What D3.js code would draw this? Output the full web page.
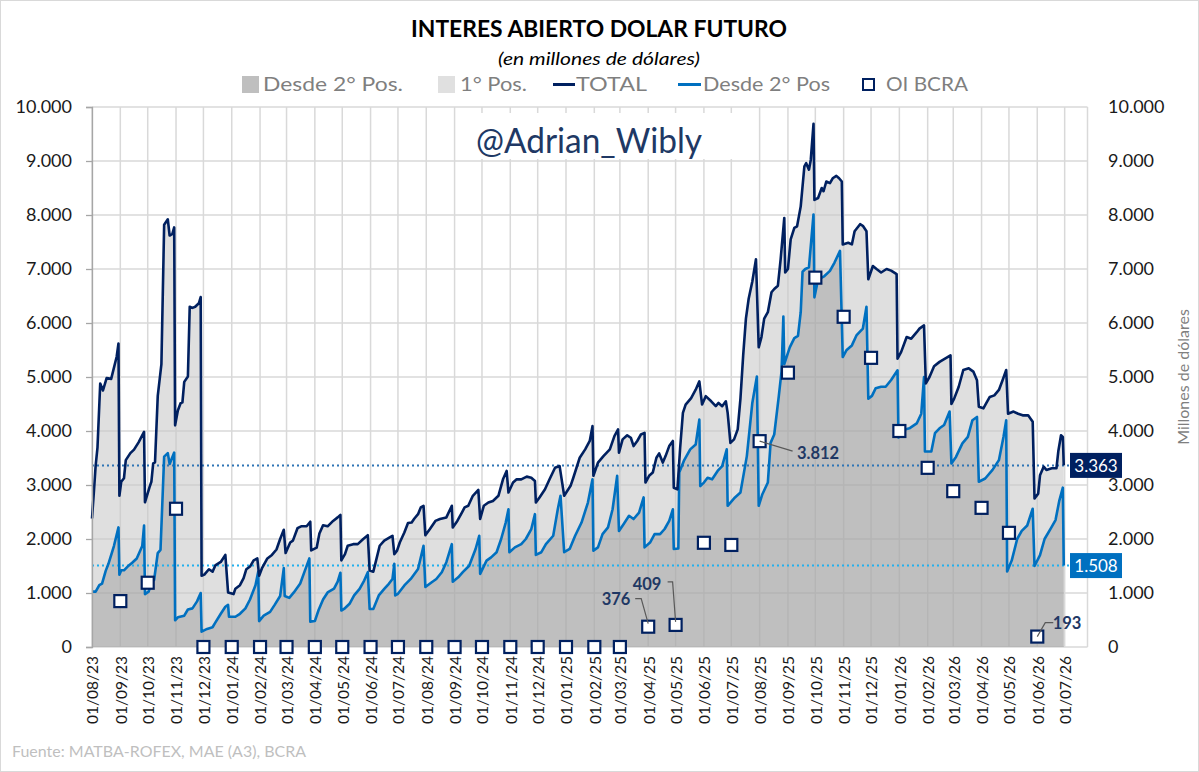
<!DOCTYPE html>
<html><head><meta charset="utf-8">
<script src="https://cdn.jsdelivr.net/npm/d3@7"></script>
<style>body{margin:0;background:#fff} svg{display:block} text{font-family:Lato,'Open Sans',sans-serif}</style>
</head><body><svg id="c" width="1199" height="772"></svg>
<script>
// ---------- DATA ----------
const totalSeries = [
["2023-08-01",2380],["2023-08-03",2860],["2023-08-05",3360],["2023-08-07",3690],["2023-08-10",4880],["2023-08-13",4750],["2023-08-17",4980],["2023-08-22",4965],["2023-08-28",5375],["2023-08-30",5620],["2023-08-31",2800],
["2023-09-02",3060],["2023-09-05",3125],["2023-09-07",3460],["2023-09-12",3590],["2023-09-16",3655],["2023-09-21",3790],["2023-09-27",3985],["2023-09-28",2680],
["2023-10-03",2960],["2023-10-05",3060],["2023-10-07",3400],["2023-10-09",3420],["2023-10-12",4650],["2023-10-16",5240],["2023-10-19",7820],["2023-10-23",7920],["2023-10-25",7620],["2023-10-28",7650],["2023-10-30",7770],["2023-10-31",4105],
["2023-11-03",4380],["2023-11-06",4515],["2023-11-08",4530],["2023-11-10",4910],["2023-11-14",5010],["2023-11-16",6300],["2023-11-19",6280],["2023-11-22",6300],["2023-11-26",6365],["2023-11-28",6480],["2023-11-29",1320],
["2023-12-02",1340],["2023-12-07",1440],["2023-12-11",1395],["2023-12-14",1510],["2023-12-20",1575],["2023-12-25",1705],["2023-12-28",1010],
["2024-01-03",980],["2024-01-05",1080],["2024-01-10",1145],["2024-01-14",1275],["2024-01-17",1440],["2024-01-21",1490],["2024-01-25",1605],["2024-01-29",1640],["2024-01-31",1320],
["2024-02-03",1455],["2024-02-09",1640],["2024-02-14",1705],["2024-02-19",1805],["2024-02-23",2000],["2024-02-27",2170],["2024-02-29",1740],
["2024-03-05",1935],["2024-03-08",1970],["2024-03-13",2200],["2024-03-17",2235],["2024-03-23",2235],["2024-03-27",2320],["2024-03-28",1790],
["2024-04-03",1840],["2024-04-06",2100],["2024-04-10",2255],["2024-04-15",2235],["2024-04-21",2335],["2024-04-26",2400],["2024-04-29",2445],["2024-04-30",1605],
["2024-05-04",1720],["2024-05-07",1875],["2024-05-13",1905],["2024-05-18",1905],["2024-05-24",2000],["2024-05-29",2070],["2024-05-31",1415],
["2024-06-04",1395],["2024-06-07",1600],["2024-06-11",1875],["2024-06-16",1970],["2024-06-22",2030],["2024-06-25",2060],["2024-06-27",1720],["2024-06-30",1785],
["2024-07-03",1935],["2024-07-08",2120],["2024-07-12",2295],["2024-07-16",2305],["2024-07-19",2380],["2024-07-23",2460],["2024-07-26",2585],["2024-07-29",2615],["2024-07-31",2070],
["2024-08-05",2185],["2024-08-11",2335],["2024-08-16",2370],["2024-08-23",2400],["2024-08-29",2615],["2024-08-30",2215],
["2024-09-04",2335],["2024-09-09",2490],["2024-09-12",2585],["2024-09-16",2615],["2024-09-21",2800],["2024-09-27",2910],["2024-09-29",2370],
["2024-10-03",2615],["2024-10-08",2675],["2024-10-13",2705],["2024-10-19",2800],["2024-10-24",3105],["2024-10-28",3260],["2024-10-30",2860],
["2024-11-04",3045],["2024-11-08",3105],["2024-11-13",3105],["2024-11-19",3155],["2024-11-24",3135],["2024-11-28",3075],["2024-11-29",2675],
["2024-12-03",2770],["2024-12-09",2920],["2024-12-14",3105],["2024-12-20",3320],["2024-12-25",3350],["2024-12-30",2800],
["2025-01-06",2985],["2025-01-09",3135],["2025-01-16",3505],["2025-01-22",3660],["2025-01-27",3815],["2025-01-30",4090],["2025-01-31",3170],
["2025-02-05",3415],["2025-02-11",3535],["2025-02-18",3660],["2025-02-23",3905],["2025-02-27",4030],["2025-02-28",3600],
["2025-03-04",3845],["2025-03-09",3920],["2025-03-13",3875],["2025-03-16",3720],["2025-03-20",3815],["2025-03-24",3935],["2025-03-28",3965],["2025-03-29",3045],
["2025-04-02",3170],["2025-04-06",3230],["2025-04-10",3505],["2025-04-13",3585],["2025-04-17",3415],["2025-04-20",3535],["2025-04-24",3720],["2025-04-28",3815],["2025-04-29",2950],
["2025-05-03",2920],["2025-05-06",3690],["2025-05-09",4335],["2025-05-12",4490],["2025-05-18",4610],["2025-05-23",4765],["2025-05-27",4920],["2025-05-30",4490],
["2025-06-03",4645],["2025-06-09",4550],["2025-06-14",4460],["2025-06-17",4520],["2025-06-21",4460],["2025-06-25",4550],["2025-06-27",4335],["2025-06-30",3780],
["2025-07-04",3845],["2025-07-08",4030],["2025-07-11",4600],["2025-07-14",5400],["2025-07-17",6080],["2025-07-20",6450],["2025-07-24",6770],["2025-07-28",7180],["2025-07-31",5550],
["2025-08-03",5740],["2025-08-06",6080],["2025-08-10",6200],["2025-08-14",6570],["2025-08-17",6630],["2025-08-21",6690],["2025-08-24",7180],["2025-08-28",7945],["2025-08-29",6935],
["2025-09-01",7000],["2025-09-04",7550],["2025-09-08",7760],["2025-09-11",7790],["2025-09-15",8160],["2025-09-19",8900],["2025-09-21",8960],["2025-09-24",8840],["2025-09-26",9020],["2025-09-29",9690],["2025-09-30",8280],
["2025-10-04",8315],["2025-10-08",8500],["2025-10-10",8440],["2025-10-13",8620],["2025-10-17",8590],["2025-10-20",8680],["2025-10-24",8725],["2025-10-27",8680],["2025-10-30",8620],["2025-10-31",7455],
["2025-11-06",7485],["2025-11-10",7455],["2025-11-13",7700],["2025-11-19",7830],["2025-11-22",7800],["2025-11-26",7700],["2025-11-28",6810],
["2025-12-03",7055],["2025-12-07",7000],["2025-12-12",6935],["2025-12-18",7000],["2025-12-23",6970],["2025-12-29",6905],["2025-12-30",5340],
["2026-01-03",5465],["2026-01-09",5740],["2026-01-14",5710],["2026-01-20",5830],["2026-01-23",5895],["2026-01-28",5955],["2026-01-30",4880],
["2026-02-03",5000],["2026-02-08",5200],["2026-02-14",5280],["2026-02-20",5340],["2026-02-26",5400],["2026-02-27",4500],
["2026-03-02",4600],["2026-03-07",4820],["2026-03-12",5130],["2026-03-18",5160],["2026-03-23",5100],["2026-03-27",4940],["2026-03-29",4450],
["2026-04-03",4420],["2026-04-06",4510],["2026-04-10",4630],["2026-04-15",4660],["2026-04-20",4760],["2026-04-24",4940],["2026-04-28",5130],["2026-04-30",4320],
["2026-05-06",4360],["2026-05-11",4320],["2026-05-16",4290],["2026-05-22",4290],["2026-05-27",4170],["2026-05-29",2750],
["2026-06-02",2840],["2026-06-04",3180],["2026-06-08",3340],["2026-06-11",3280],["2026-06-17",3310],["2026-06-22",3310],["2026-06-24",3620],["2026-06-27",3920],["2026-06-29",3890],["2026-06-30",3363]
];
const pos2Series = [
["2023-08-01",1025],["2023-08-05",1025],["2023-08-09",1145],["2023-08-12",1175],["2023-08-16",1410],["2023-08-19",1540],["2023-08-25",1870],["2023-08-30",2215],["2023-08-31",1340],
["2023-09-02",1420],["2023-09-05",1420],["2023-09-09",1490],["2023-09-14",1560],["2023-09-19",1640],["2023-09-25",1870],["2023-09-27",2250],["2023-09-28",980],
["2023-10-02",1025],["2023-10-06",1225],["2023-10-08",1240],["2023-10-12",1740],["2023-10-15",1800],["2023-10-19",3525],["2023-10-23",3590],["2023-10-25",3390],["2023-10-30",3600],["2023-10-31",495],
["2023-11-03",550],["2023-11-10",580],["2023-11-14",695],["2023-11-19",715],["2023-11-24",845],["2023-11-28",1000],["2023-11-29",285],
["2023-12-05",335],["2023-12-11",365],["2023-12-14",450],["2023-12-20",615],["2023-12-25",745],["2023-12-28",780],["2023-12-29",560],
["2024-01-05",560],["2024-01-10",615],["2024-01-16",715],["2024-01-21",880],["2024-01-27",1145],["2024-01-30",1395],["2024-01-31",480],
["2024-02-05",580],["2024-02-12",650],["2024-02-17",780],["2024-02-23",945],["2024-02-27",1460],["2024-02-28",945],
["2024-03-04",910],["2024-03-09",1010],["2024-03-16",1175],["2024-03-21",1410],["2024-03-26",1640],["2024-03-27",470],
["2024-04-01",480],["2024-04-05",680],["2024-04-10",880],["2024-04-15",1010],["2024-04-22",1080],["2024-04-26",1210],["2024-04-29",1375],["2024-04-30",675],
["2024-05-03",705],["2024-05-09",800],["2024-05-14",955],["2024-05-20",1075],["2024-05-25",1230],["2024-05-29",1385],["2024-05-31",705],
["2024-06-04",705],["2024-06-10",955],["2024-06-16",1075],["2024-06-21",1170],["2024-06-25",1260],["2024-06-27",1540],["2024-06-28",955],
["2024-07-01",985],["2024-07-08",1140],["2024-07-15",1260],["2024-07-23",1445],["2024-07-29",1875],["2024-07-31",1110],
["2024-08-07",1200],["2024-08-12",1260],["2024-08-18",1385],["2024-08-23",1570],["2024-08-29",1905],["2024-08-30",1210],
["2024-09-05",1290],["2024-09-10",1385],["2024-09-17",1505],["2024-09-24",1815],["2024-09-28",2060],["2024-09-29",1355],
["2024-10-06",1600],["2024-10-11",1660],["2024-10-17",1755],["2024-10-22",2000],["2024-10-27",2305],["2024-10-30",2550],["2024-10-31",1755],
["2024-11-06",1845],["2024-11-13",1905],["2024-11-18",2000],["2024-11-24",2185],["2024-11-28",2460],["2024-11-29",1705],
["2024-12-05",1755],["2024-12-10",1905],["2024-12-18",2060],["2024-12-23",2550],["2024-12-26",2800],["2024-12-30",1755],
["2025-01-05",1815],["2025-01-11",2060],["2025-01-18",2305],["2025-01-25",2675],["2025-01-30",3105],["2025-01-31",1785],
["2025-02-05",1845],["2025-02-10",2090],["2025-02-16",2215],["2025-02-21",2550],["2025-02-26",3170],["2025-02-28",2150],
["2025-03-05",2275],["2025-03-11",2430],["2025-03-16",2370],["2025-03-22",2490],["2025-03-27",2770],["2025-03-28",1845],
["2025-04-03",1935],["2025-04-08",2090],["2025-04-14",2090],["2025-04-19",2185],["2025-04-24",2335],["2025-04-28",2550],["2025-04-29",1815],
["2025-05-04",1825],["2025-05-05",3230],["2025-05-10",3445],["2025-05-17",3660],["2025-05-23",3750],["2025-05-27",4210],["2025-05-28",2980],
["2025-06-01",3045],["2025-06-05",3135],["2025-06-10",3105],["2025-06-16",3260],["2025-06-21",3350],["2025-06-26",3660],["2025-06-27",2615],
["2025-07-05",2770],["2025-07-11",2860],["2025-07-18",3535],["2025-07-24",4520],["2025-07-29",5010],["2025-07-31",2615],
["2025-08-04",2830],["2025-08-10",3045],["2025-08-13",3780],["2025-08-17",3935],["2025-08-22",4645],["2025-08-25",5105],["2025-08-27",6120],["2025-08-28",5240],
["2025-09-03",5550],["2025-09-08",5720],["2025-09-12",5760],["2025-09-15",6200],["2025-09-17",6950],["2025-09-20",7000],["2025-09-24",7030],["2025-09-29",8010],["2025-09-30",6475],
["2025-10-04",6810],["2025-10-08",6840],["2025-10-11",6870],["2025-10-17",6965],["2025-10-22",7120],["2025-10-28",7335],["2025-10-31",5370],
["2025-11-04",5495],["2025-11-10",5585],["2025-11-15",5770],["2025-11-22",5895],["2025-11-26",6300],["2025-11-28",4600],
["2025-12-02",4650],["2025-12-06",4790],["2025-12-12",4820],["2025-12-17",4820],["2025-12-23",4945],["2025-12-30",5125],["2025-12-31",3880],
["2026-01-05",4020],["2026-01-12",4050],["2026-01-20",4140],["2026-01-25",4320],["2026-01-28",5000],["2026-01-29",3620],
["2026-02-05",3620],["2026-02-09",3960],["2026-02-14",4050],["2026-02-19",4110],["2026-02-25",4360],["2026-02-27",3400],
["2026-03-04",3520],["2026-03-11",3770],["2026-03-17",3890],["2026-03-22",4200],["2026-03-27",4260],["2026-03-29",3060],
["2026-04-05",3120],["2026-04-13",3280],["2026-04-20",3460],["2026-04-25",3890],["2026-04-28",4200],["2026-04-29",1400],
["2026-05-04",1600],["2026-05-10",2000],["2026-05-15",2150],["2026-05-21",2250],["2026-05-27",2560],["2026-05-29",1500],
["2026-06-04",1700],["2026-06-09",2000],["2026-06-16",2200],["2026-06-21",2350],["2026-06-25",2700],["2026-06-29",2950],["2026-06-30",1508]
];
const bcraMonths = ["2023-09-01","2023-10-01","2023-11-01","2023-12-01","2024-01-01","2024-02-01","2024-03-01","2024-04-01","2024-05-01","2024-06-01","2024-07-01","2024-08-01","2024-09-01","2024-10-01","2024-11-01","2024-12-01","2025-01-01","2025-02-01","2025-03-01","2025-04-01","2025-05-01","2025-06-01","2025-07-01","2025-08-01","2025-09-01","2025-10-01","2025-11-01","2025-12-01","2026-01-01","2026-02-01","2026-03-01","2026-04-01","2026-05-01","2026-06-01"];
const bcraValues = [850,1190,2560,0,0,0,0,0,0,0,0,0,0,0,0,0,0,0,0,376,409,1930,1890,3812,5080,6840,6115,5355,4000,3318,2886,2577,2114,193];
const xTickLabels = ["01/08/23","01/09/23","01/10/23","01/11/23","01/12/23","01/01/24","01/02/24","01/03/24","01/04/24","01/05/24","01/06/24","01/07/24","01/08/24","01/09/24","01/10/24","01/11/24","01/12/24","01/01/25","01/02/25","01/03/25","01/04/25","01/05/25","01/06/25","01/07/25","01/08/25","01/09/25","01/10/25","01/11/25","01/12/25","01/01/26","01/02/26","01/03/26","01/04/26","01/05/26","01/06/26","01/07/26"];
const yTicks = [0,1000,2000,3000,4000,5000,6000,7000,8000,9000,10000];
const lastTotal = 3363, lastPos2 = 1508;
const labeledBcra = ["2025-04-01","2025-05-01","2025-08-01","2026-06-01"];

// ---------- SETUP ----------
const svg = d3.select("#c");
const fmt = d3.formatLocale({decimal:",",thousands:".",grouping:[3],currency:["$",""]}).format(",d");
const parse = d3.utcParse("%Y-%m-%d");
const parseTick = d3.utcParse("%d/%m/%y");
const P = {left:92, right:1087.5, top:107, bottom:647};
const x = d3.scaleUtc().domain([parse("2023-08-01"), parse("2026-07-26")]).range([P.left, P.right]);
const y = d3.scaleLinear().domain([0,10000]).range([P.bottom, P.top]);
const tot = totalSeries.map(d=>({date:parse(d[0]),v:d[1]}));
const p2 = pos2Series.map(d=>({date:parse(d[0]),v:d[1]}));
const bcra = bcraMonths.map((m,i)=>({date:parse(m),v:bcraValues[i],m}));
const grid = "#d9d9d9";

svg.append("rect").attr("x",0.5).attr("y",0.5).attr("width",1198).attr("height",771).attr("fill","#fff").attr("stroke","#d9d9d9");

// gridlines
const g = svg.append("g");
g.selectAll(".hg").data(yTicks).join("line").attr("x1",P.left).attr("x2",P.right)
  .attr("y1",d=>y(d)).attr("y2",d=>y(d)).attr("stroke",grid).attr("stroke-width",1.5);
const tickDates = xTickLabels.map(t=>parseTick(t));
g.selectAll(".vg").data(tickDates).join("line").attr("x1",d=>x(d)).attr("x2",d=>x(d))
  .attr("y1",P.top).attr("y2",P.bottom).attr("stroke",grid).attr("stroke-width",1.5);
g.append("line").attr("x1",P.right).attr("x2",P.right).attr("y1",P.top).attr("y2",P.bottom).attr("stroke",grid).attr("stroke-width",1.5);

// areas
const area = d3.area().x(d=>x(d.date)).y0(y(0)).y1(d=>y(d.v));
svg.append("path").datum(tot).attr("d",area).attr("fill","#c8c8c8").attr("fill-opacity",0.58);
svg.append("path").datum(p2).attr("d",area).attr("fill","#808080").attr("fill-opacity",0.33);

// reference dotted lines
svg.append("line").attr("x1",P.left).attr("x2",1070).attr("y1",y(lastTotal)).attr("y2",y(lastTotal))
  .attr("stroke","#2e75b6").attr("stroke-width",2).attr("stroke-dasharray","2,3");
svg.append("line").attr("x1",P.left).attr("x2",1070).attr("y1",y(lastPos2)).attr("y2",y(lastPos2))
  .attr("stroke","#22b0ee").attr("stroke-width",2).attr("stroke-dasharray","2,3");

// lines
const line = d3.line().x(d=>x(d.date)).y(d=>y(d.v));
svg.append("path").datum(p2).attr("d",line).attr("fill","none").attr("stroke","#0070c0").attr("stroke-width",2.6).attr("stroke-linejoin","round");
svg.append("path").datum(tot).attr("d",line).attr("fill","none").attr("stroke","#002060").attr("stroke-width",2.6).attr("stroke-linejoin","round");

// axes
const yl = svg.append("g").attr("transform",`translate(${P.left},0)`)
  .call(d3.axisLeft(y).tickValues(yTicks).tickSize(6).tickPadding(14).tickFormat(fmt));
yl.select(".domain").attr("stroke","#a6a6a6").attr("stroke-width",1.3);
yl.selectAll(".tick line").attr("stroke","#a6a6a6").attr("stroke-width",1.3);
yl.selectAll("text").attr("font-size",18).attr("fill","#1a1a1a").attr("font-family","Lato");
const yr = svg.append("g").attr("transform",`translate(${P.right},0)`)
  .call(d3.axisRight(y).tickValues(yTicks).tickSize(0).tickPadding(20.5).tickFormat(fmt));
yr.select(".domain").remove();
yr.selectAll("text").attr("font-size",18).attr("fill","#1a1a1a").attr("font-family","Lato");

svg.append("g").selectAll("text").data(xTickLabels).join("text")
  .attr("transform",d=>`translate(${x(parseTick(d))+1},656) rotate(-90)`)
  .attr("text-anchor","end").attr("dy","0.35em").attr("font-size",15.5).attr("fill","#1a1a1a")
  .text(d=>d);

// BCRA squares
svg.append("g").selectAll("rect").data(bcra).join("rect")
  .attr("x",d=>x(d.date)-6).attr("y",d=>y(d.v)-6).attr("width",12).attr("height",12)
  .attr("fill","#fff").attr("stroke","#002060").attr("stroke-width",2.2);

// data labels with leaders
const lab = svg.append("g");
const lb = m=>bcra.find(d=>d.m===m);
const labels = [
  {m:labeledBcra[0], pts:(d)=>[[x(d.date),y(d.v)-3],[x(d.date)-7,y(d.v)-28],[x(d.date)-13,y(d.v)-28]], tx:616, ty:599, anchor:"middle"},
  {m:labeledBcra[1], pts:(d)=>[[x(d.date),y(d.v)-3],[x(d.date)-3,y(d.v)-43],[x(d.date)-8,y(d.v)-43]], tx:647, ty:584, anchor:"middle"},
  {m:labeledBcra[2], pts:(d)=>[[x(d.date),y(d.v)],[x(d.date)+33,y(d.v)+10]], tx:818, ty:453, anchor:"middle"},
  {m:labeledBcra[3], pts:(d)=>[[x(d.date),y(d.v)],[x(d.date)+8,y(d.v)-14],[x(d.date)+16,y(d.v)-14]], tx:1067, ty:623, anchor:"middle"}
];
labels.forEach(L=>{
  const d = lb(L.m);
  lab.append("path").attr("d",d3.line()(L.pts(d))).attr("fill","none").attr("stroke","#595959").attr("stroke-width",1.2);
  lab.append("text").attr("x",L.tx).attr("y",L.ty).attr("dy","0.35em").attr("text-anchor",L.anchor)
    .attr("font-size",16.5).attr("font-weight",700).attr("fill","#1f3864").text(fmt(d.v));
});

// last value boxes
function valBox(val, fill, yy){
  svg.append("rect").attr("x",1070).attr("y",y(val)-12.5).attr("width",52).attr("height",25).attr("fill",fill);
  svg.append("text").attr("x",1096).attr("y",y(val)).attr("dy","0.36em").attr("text-anchor","middle")
    .attr("font-size",17).attr("fill","#fff").text(fmt(val));
}
valBox(lastTotal,"#002060");
valBox(lastPos2,"#0070c0");

// watermark
svg.append("rect").attr("x",468).attr("y",113).attr("width",267).attr("height",46).attr("fill","#fff");
svg.append("text").attr("x",589).attr("y",153).attr("text-anchor","middle").attr("font-size",35)
  .attr("fill","#203864").attr("textLength",226).attr("lengthAdjust","spacingAndGlyphs").text("@Adrian_Wibly");

// titles
svg.append("text").attr("x",599).attr("y",37).attr("text-anchor","middle").attr("font-size",23).attr("font-weight",700)
  .attr("fill","#000").attr("textLength",376).attr("lengthAdjust","spacingAndGlyphs").text("INTERES ABIERTO DOLAR FUTURO");
svg.append("text").attr("x",599).attr("y",65).attr("text-anchor","middle").attr("font-size",18).attr("font-style","italic")
  .attr("fill","#000").attr("textLength",202).attr("lengthAdjust","spacingAndGlyphs").text("(en millones de dólares)");

// legend
const leg = svg.append("g").attr("font-size",19).attr("fill","#7f7f7f");
leg.append("rect").attr("x",242).attr("y",76).attr("width",17).attr("height",17).attr("fill","#bfbfbf");
leg.append("text").attr("x",263).attr("y",91).attr("textLength",140).attr("lengthAdjust","spacingAndGlyphs").text("Desde 2° Pos.");
leg.append("rect").attr("x",438).attr("y",76).attr("width",17).attr("height",17).attr("fill","#e0e0e0");
leg.append("text").attr("x",460).attr("y",91).attr("textLength",67).attr("lengthAdjust","spacingAndGlyphs").text("1° Pos.");
leg.append("line").attr("x1",553).attr("x2",575).attr("y1",84.5).attr("y2",84.5).attr("stroke","#002060").attr("stroke-width",3);
leg.append("text").attr("x",576).attr("y",91).attr("textLength",71).attr("lengthAdjust","spacingAndGlyphs").text("TOTAL");
leg.append("line").attr("x1",678).attr("x2",701).attr("y1",84.5).attr("y2",84.5).attr("stroke","#0070c0").attr("stroke-width",3);
leg.append("text").attr("x",703).attr("y",91).attr("textLength",127).attr("lengthAdjust","spacingAndGlyphs").text("Desde 2° Pos");
leg.append("rect").attr("x",863).attr("y",79).attr("width",11).attr("height",11).attr("fill","#fff").attr("stroke","#002060").attr("stroke-width",2);
leg.append("text").attr("x",886).attr("y",91).attr("textLength",82).attr("lengthAdjust","spacingAndGlyphs").text("OI BCRA");

// right axis title
svg.append("text").attr("transform","translate(1183,377) rotate(-90)").attr("text-anchor","middle").attr("dy","0.35em")
  .attr("font-size",16).attr("fill","#7f7f7f").text("Millones de dólares");

// footer
svg.append("text").attr("x",12).attr("y",757).attr("font-size",15.5).attr("fill","#bfbfbf")
  .attr("textLength",294).attr("lengthAdjust","spacingAndGlyphs").text("Fuente: MATBA-ROFEX, MAE (A3), BCRA");
</script></body></html>
